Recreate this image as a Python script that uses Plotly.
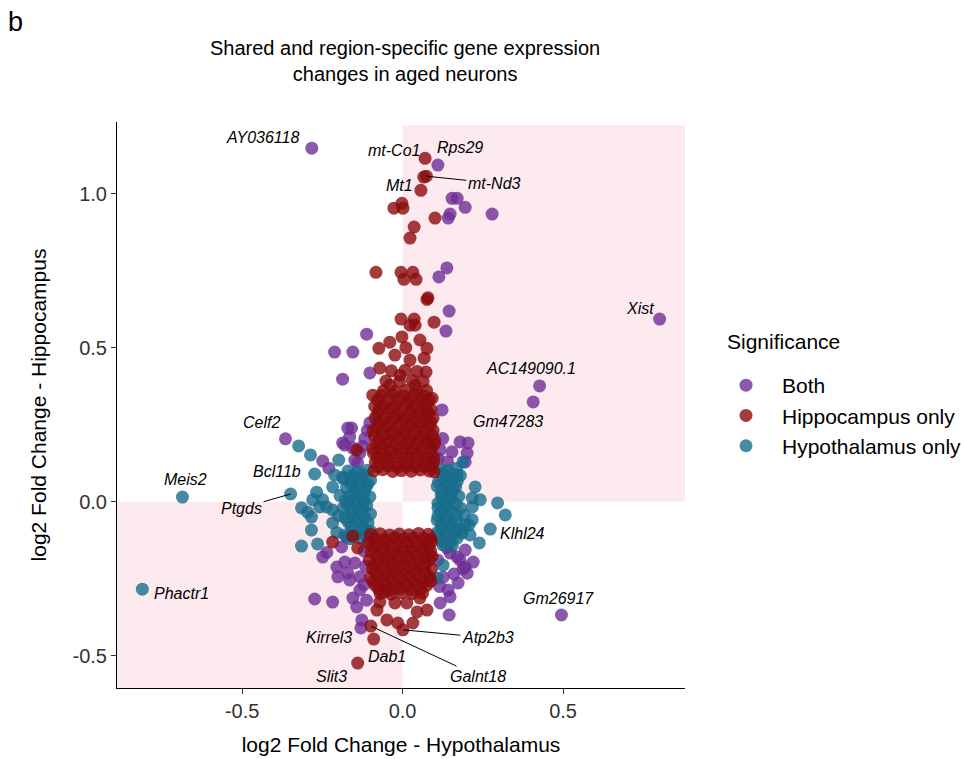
import plotly.graph_objects as go

# ---------------------------------------------------------------------------
# log2 fold changes (x: hypothalamus, y: hippocampus) per significance group
# ---------------------------------------------------------------------------

# genes significant in both regions
both_x = [0.154, 0.170, 0.195, 0.148, 0.142, 0.279,
          0.138, 0.113, 0.145, 0.135,
          -0.112, -0.212, -0.155, -0.187, -0.102, 0.123,
          -0.249, -0.230, -0.165, -0.171, -0.180, -0.159, -0.187, -0.149, -0.133,
          -0.102, -0.155, -0.140, -0.118, -0.125, -0.110,
          0.179, 0.204, 0.201, 0.154, 0.117, 0.195, 0.125, 0.110, 0.140,
          -0.249, -0.236, -0.205, -0.171, -0.202, -0.149, -0.133, -0.190, -0.174,
          -0.180, -0.165, -0.133, -0.155, -0.218, -0.274, -0.143, -0.130, -0.120,
          -0.115, -0.121, -0.112,
          0.148, 0.179, 0.195, 0.220, 0.138, 0.170, 0.188, 0.126, 0.173, 0.201,
          0.142, 0.148, 0.117, 0.145, 0.195, 0.110, 0.115, 0.160]
both_y = [0.985, 0.985, 0.956, 0.934, 0.921, 0.934,
          0.759, 0.730, 0.619, 0.554,
          0.544, 0.486, 0.486, 0.398, 0.418, 0.298,
          0.132, 0.109, 0.210, 0.239, 0.184, 0.239, 0.191, 0.135, 0.158,
          0.256, 0.174, 0.126, 0.205, 0.180, 0.232,
          0.194, 0.191, 0.158, 0.162, 0.168, 0.129, 0.205, 0.140, 0.130,
          -0.180, -0.165, -0.212, -0.231, -0.244, -0.199, -0.244, -0.147, -0.115,
          -0.196, -0.254, -0.287, -0.313, -0.326, -0.316, -0.342, -0.410, -0.160,
          -0.210, -0.270, -0.320,
          -0.167, -0.189, -0.212, -0.196, -0.150, -0.180, -0.218, -0.245, -0.264, -0.232,
          -0.287, -0.309, -0.329, -0.368, -0.157, -0.190, -0.275, -0.235]

# genes significant in the hippocampus only
hippo_x = [0.057, -0.027, -0.002, 0.001, 0.101, 0.036, 0.023,
           -0.083, -0.005, 0.004, 0.032, 0.042, 0.076, 0.079,
           -0.005, 0.036, 0.023, 0.039, 0.098,
           -0.002, -0.074, -0.040, 0.054, 0.076, 0.067, -0.071, 0.073, -0.093,
           -0.087, 0.092, 0.076, -0.024, 0.023, -0.008, 0.039, -0.040, 0.010,
           -0.218, -0.155, -0.140, -0.143,
           # upper block
           -0.090, -0.062, -0.031, -0.004, 0.027, 0.055, 0.083, 0.098,
           -0.085, -0.050, -0.018, 0.012, 0.043, 0.071, 0.096,
           -0.091, -0.066, -0.035, -0.002, 0.030, 0.061, 0.088,
           -0.083, -0.052, -0.020, 0.014, 0.046, 0.078, 0.099,
           -0.088, -0.060, -0.029, 0.004, 0.036, 0.065, 0.092,
           -0.080, -0.047, -0.013, 0.021, 0.052, 0.084,
           -0.086, -0.057, -0.024, 0.009, 0.040, 0.072, 0.095,
           -0.072, -0.038, -0.006, 0.028, 0.060, 0.088,
           -0.078, -0.046, -0.012, 0.020, 0.055, 0.083,
           -0.060, -0.025, 0.010, 0.044, 0.075,
           -0.052, -0.010, 0.030, 0.064,
           -0.035, 0.008, 0.045,
           -0.076, -0.046, -0.017, 0.012, 0.041, 0.069, 0.092,
           -0.078, -0.048, -0.018, 0.014, 0.045, 0.075, 0.098,
           -0.093, -0.068, -0.036, -0.004, 0.030, 0.062, 0.090,
           -0.074, -0.044, -0.012, 0.020, 0.050, 0.079, 0.100,
           -0.092, -0.064, -0.030, 0.004, 0.037, 0.068, 0.095,
           -0.072, -0.040, -0.006, 0.028, 0.058, 0.088,
           -0.078, -0.044, -0.012, 0.024, 0.056, 0.082,
           -0.058, -0.022, 0.012, 0.044, 0.074,
           -0.066, -0.030, 0.004, 0.036, 0.066,
           # lower block
           -0.100, -0.070, -0.040, -0.010, 0.020, 0.050, 0.080,
           -0.107, -0.078, -0.049, -0.016, 0.014, 0.044, 0.073, 0.090,
           -0.098, -0.066, -0.033, -0.002, 0.030, 0.060, 0.088,
           -0.104, -0.075, -0.044, -0.012, 0.020, 0.051, 0.082,
           -0.094, -0.062, -0.028, 0.005, 0.036, 0.067, 0.090,
           -0.100, -0.071, -0.040, -0.008, 0.024, 0.056, 0.085,
           -0.085, -0.052, -0.020, 0.013, 0.045, 0.075,
           -0.070, -0.036, -0.004, 0.030, 0.062,
           -0.086, -0.055, -0.025, 0.005, 0.035, 0.065, 0.088,
           -0.092, -0.062, -0.032, 0.000, 0.030, 0.060, 0.082,
           -0.082, -0.050, -0.018, 0.014, 0.045, 0.074, 0.092,
           -0.088, -0.058, -0.026, 0.006, 0.038, 0.070,
           -0.084, -0.054, -0.024, 0.008, 0.040, 0.072,
           -0.092, -0.060, -0.030, 0.002, 0.034, 0.066, 0.088,
           -0.074, -0.040, -0.008, 0.026, 0.056,
           -0.080, -0.049, -0.015, 0.032, 0.045, 0.076, -0.071, -0.024, 0.013,
           0.054, -0.055]
hippo_y = [1.011, 0.953, 0.969, 0.953, 0.921, 0.892, 0.856,
           0.745, 0.745, 0.722, 0.745, 0.722, 0.657, 0.662,
           0.593, 0.593, 0.573, 0.573, 0.583,
           0.535, 0.498, 0.518, 0.525, 0.498, 0.466, 0.434, 0.421, 0.346,
           0.310, 0.336, 0.291, 0.476, 0.460, 0.411, 0.378, 0.378, 0.500,
           -0.131, -0.112, -0.150, 0.168,
           0.100, 0.104, 0.098, 0.101, 0.099, 0.103, 0.100, 0.097,
           0.128, 0.131, 0.126, 0.129, 0.127, 0.130, 0.128,
           0.158, 0.156, 0.160, 0.157, 0.159, 0.155, 0.158,
           0.187, 0.189, 0.185, 0.188, 0.186, 0.190, 0.187,
           0.215, 0.213, 0.217, 0.214, 0.216, 0.212, 0.215,
           0.244, 0.246, 0.242, 0.245, 0.243, 0.244,
           0.272, 0.270, 0.274, 0.271, 0.273, 0.269, 0.272,
           0.300, 0.302, 0.298, 0.301, 0.299, 0.300,
           0.330, 0.328, 0.332, 0.329, 0.331, 0.330,
           0.360, 0.358, 0.362, 0.359, 0.361,
           0.392, 0.390, 0.394, 0.391,
           0.425, 0.427, 0.423,
           0.114, 0.116, 0.112, 0.115, 0.113, 0.114, 0.116,
           0.143, 0.141, 0.145, 0.142, 0.144, 0.143, 0.141,
           0.172, 0.174, 0.170, 0.173, 0.171, 0.172, 0.174,
           0.201, 0.199, 0.203, 0.200, 0.202, 0.201, 0.199,
           0.230, 0.232, 0.228, 0.231, 0.229, 0.230, 0.232,
           0.258, 0.256, 0.260, 0.257, 0.259, 0.258,
           0.286, 0.288, 0.284, 0.287, 0.285, 0.286,
           0.315, 0.313, 0.317, 0.314, 0.316,
           0.345, 0.347, 0.343, 0.346, 0.344,
           -0.106, -0.104, -0.108, -0.105, -0.107, -0.103, -0.106,
           -0.133, -0.135, -0.131, -0.134, -0.132, -0.136, -0.133, -0.130,
           -0.162, -0.160, -0.164, -0.161, -0.163, -0.159, -0.162,
           -0.190, -0.192, -0.188, -0.191, -0.189, -0.193, -0.190,
           -0.218, -0.216, -0.220, -0.217, -0.219, -0.215, -0.218,
           -0.246, -0.248, -0.244, -0.247, -0.245, -0.249, -0.246,
           -0.272, -0.274, -0.270, -0.273, -0.271, -0.272,
           -0.298, -0.300, -0.296, -0.299, -0.297,
           -0.119, -0.121, -0.117, -0.120, -0.118, -0.119, -0.121,
           -0.148, -0.146, -0.150, -0.147, -0.149, -0.148, -0.146,
           -0.176, -0.178, -0.174, -0.177, -0.175, -0.176, -0.178,
           -0.204, -0.202, -0.206, -0.203, -0.205, -0.204,
           -0.232, -0.234, -0.230, -0.233, -0.231, -0.232,
           -0.260, -0.258, -0.262, -0.259, -0.261, -0.260, -0.258,
           -0.285, -0.287, -0.283, -0.286, -0.284,
           -0.352, -0.384, -0.394, -0.394, -0.358, -0.352, -0.326, -0.329, -0.329,
           -0.313, -0.293]

# genes significant in the hypothalamus only
hypo_x = [-0.324, -0.287, -0.212, -0.199, -0.315, -0.296, -0.268, -0.280, -0.258,
          -0.237, -0.284, -0.315, -0.265, -0.218, -0.218, -0.249, -0.187, -0.218,
          -0.284, -0.205, -0.195, -0.200,
          -0.170, -0.141, -0.110, -0.158, -0.128, -0.100, -0.175, -0.145, -0.115,
          -0.165, -0.132, -0.102, -0.172, -0.142, -0.112, -0.160, -0.128, -0.100,
          -0.170, -0.140, -0.108, -0.155, -0.125, -0.100, -0.165, -0.132, -0.105,
          -0.155, -0.125, -0.162, -0.132, -0.108, -0.150, -0.120, -0.178, -0.150,
          -0.120, -0.158, -0.125, -0.180, -0.150, -0.118, -0.160, -0.125, -0.180,
          -0.145, -0.115, -0.185, -0.185,
          0.296, 0.320, 0.239, 0.217, 0.192, 0.207, 0.185, 0.226, 0.217, 0.242,
          0.210, 0.170, 0.157, 0.188, 0.107, 0.126, 0.217, 0.195,
          0.112, 0.140, 0.168, 0.125, 0.155, 0.108, 0.136, 0.165, 0.120, 0.150,
          0.175, 0.110, 0.138, 0.166, 0.122, 0.152, 0.108, 0.136, 0.168, 0.120,
          0.150, 0.110, 0.140, 0.170, 0.125, 0.155,
          0.126, 0.155, 0.180, 0.122, 0.150, 0.112, 0.142, 0.170, 0.124, 0.152,
          0.180, 0.110, 0.138, 0.168, 0.110, 0.136, 0.122, 0.152, 0.180, 0.108,
          0.136, 0.165, 0.122, 0.152]
hypo_y = [0.181, 0.152, 0.087, 0.135, -0.020, -0.034, 0.031, 0.006, -0.017,
          -0.017, -0.092, -0.144, -0.137, -0.069, 0.048, 0.006, 0.080, -0.027,
          -0.050, -0.100, 0.020, -0.045,
          0.100, 0.097, 0.102, 0.072, 0.075, 0.070, 0.045, 0.043, 0.047,
          0.018, 0.021, 0.016, -0.010, -0.008, -0.012, -0.038, -0.035, -0.040,
          -0.066, -0.063, -0.068, -0.094, -0.091, -0.096, -0.120, -0.118, -0.122,
          0.086, 0.088, 0.058, 0.060, 0.058, 0.031, 0.030, 0.004, 0.004,
          0.002, -0.024, -0.022, -0.052, -0.052, -0.050, -0.080, -0.080, -0.108,
          -0.107, -0.105, 0.075, -0.020,
          -0.004, -0.043, -0.134, -0.017, -0.043, -0.076, -0.102, 0.048, 0.012, 0.006,
          -0.108, 0.087, 0.038, 0.129, -0.248, -0.206, -0.059, -0.076,
          0.105, 0.102, 0.108, 0.078, 0.075, 0.050, 0.052, 0.047, 0.022, 0.025,
          0.018, -0.005, -0.003, -0.008, -0.033, -0.030, -0.060, -0.058, -0.062, -0.088,
          -0.085, -0.115, -0.112, -0.118, -0.140, -0.143,
          0.092, 0.090, 0.085, 0.036, 0.038, 0.064, 0.064, 0.066, 0.008, 0.010,
          -0.020, -0.020, -0.018, -0.045, -0.046, -0.045, -0.074, -0.072, -0.090, -0.100,
          -0.100, -0.100, -0.128, -0.128]

# labelled genes
lab_gene = ["AY036118", "mt-Co1", "Rps29", "Mt1", "mt-Nd3", "Xist", "AC149090.1",
            "Gm47283", "Celf2", "Bcl11b", "Meis2", "Ptgds", "Klhl24", "Gm26917",
            "Phactr1", "Kirrel3", "Galnt18", "Dab1", "Slit3", "Atp2b3"]
lab_group = ["Both", "Hippocampus only", "Both", "Hippocampus only", "Hippocampus only",
             "Both", "Both", "Both", "Both", "Hypothalamus only", "Hypothalamus only",
             "Hypothalamus only", "Hypothalamus only", "Both", "Hypothalamus only",
             "Both", "Hippocampus only", "Hippocampus only", "Hippocampus only",
             "Hippocampus only"]
lab_x = [-0.283, 0.070, 0.110, 0.066, 0.074, 0.801, 0.427, 0.407, -0.365, -0.274,
         -0.686, -0.349, 0.273, 0.495, -0.811, -0.127, -0.099, -0.090, -0.140, 0.001]
lab_y = [1.148, 1.115, 1.093, 1.054, 1.057, 0.593, 0.376, 0.324, 0.204, 0.090,
         0.015, 0.025, -0.089, -0.368, -0.284, -0.384, -0.404, -0.446, -0.524, -0.416]

# label placement: text-centre offset in px (right, down) and leader line flag
label_offset = {
    "AY036118": (-49, -11, False), "mt-Co1": (-31, -8, False), "Rps29": (22, -18, False),
    "Mt1": (-24, 8, False), "mt-Nd3": (68, 7, True), "Xist": (-20, -11, False),
    "AC149090.1": (-9, -17, False), "Gm47283": (-25, 20, False), "Celf2": (-24, -16, False),
    "Bcl11b": (-38, -2, False), "Meis2": (3, -18, False), "Ptgds": (-49, 14, True),
    "Klhl24": (32, 4, False), "Gm26917": (-3, -17, False), "Phactr1": (39, 4, False),
    "Kirrel3": (-33, 18, False), "Galnt18": (107, 50, True), "Dab1": (13, 17, False),
    "Slit3": (-26, 13, False), "Atp2b3": (85, 8, True),
}

colors = {"Both": "#6E2E96", "Hippocampus only": "#8B0B0E", "Hypothalamus only": "#186D8C"}
series = {"Both": (both_x, both_y),
          "Hippocampus only": (hippo_x, hippo_y),
          "Hypothalamus only": (hypo_x, hypo_y)}
legend_rank = {"Both": 1, "Hippocampus only": 2, "Hypothalamus only": 3}

X_RANGE = [-0.89, 0.88]
Y_RANGE = [-0.605, 1.233]

# plot area in px
W, H = 964, 759
ML, MR, MT, MB = 117, 279, 122, 71


def paper_x(px):
    return (px - ML) / (W - ML - MR)


def paper_y(py):
    return (H - MB - py) / (H - MT - MB)


fig = go.Figure()

# draw order: both, hypothalamus, hippocampus on top
for name in ["Both", "Hypothalamus only", "Hippocampus only"]:
    xs, ys = series[name]
    xs = list(xs) + [x for x, g in zip(lab_x, lab_group) if g == name]
    ys = list(ys) + [y for y, g in zip(lab_y, lab_group) if g == name]
    fig.add_trace(go.Scatter(
        x=xs, y=ys, mode="markers", name=name,
        legendrank=legend_rank[name], legendgroup=name,
        marker=dict(size=13, color=colors[name], opacity=0.8, line=dict(width=0)),
        hoverinfo="skip",
    ))

# shaded concordant quadrants
fig.add_shape(type="rect", xref="x", yref="y", x0=0, x1=X_RANGE[1], y0=0, y1=Y_RANGE[1] - 0.01,
              fillcolor="#FCEAEF", line=dict(width=0), layer="below")
fig.add_shape(type="rect", xref="x", yref="y", x0=X_RANGE[0], x1=0, y0=Y_RANGE[0], y1=0,
              fillcolor="#FCEAEF", line=dict(width=0), layer="below")

# gene labels
label_font = dict(size=16, color="black", family="Liberation Sans", style="italic")
for g, x, y in zip(lab_gene, lab_x, lab_y):
    dx, dy, line = label_offset[g]
    if line:
        fig.add_annotation(x=x, y=y, text=g, showarrow=True, ax=dx, ay=dy,
                           arrowhead=0, arrowwidth=1, arrowcolor="black", standoff=0,
                           font=label_font)
    else:
        fig.add_annotation(x=x, y=y, text=g, showarrow=False, xshift=dx, yshift=-dy,
                           font=label_font)

# title, panel letter, legend title
fig.add_annotation(xref="paper", yref="paper", x=paper_x(405), y=paper_y(61),
                   xanchor="center", yanchor="middle",
                   text="Shared and region-specific gene expression<br>changes in aged neurons",
                   showarrow=False, font=dict(size=20, color="black"))
fig.add_annotation(xref="paper", yref="paper", x=paper_x(15), y=paper_y(22),
                   xanchor="center", yanchor="middle",
                   text="b", showarrow=False, font=dict(size=27, color="black"))
fig.add_annotation(xref="paper", yref="paper", x=paper_x(725), y=paper_y(341),
                   xanchor="left", yanchor="middle", text="Significance", showarrow=False,
                   font=dict(size=21, color="black"))

axis_common = dict(showline=True, linecolor="black", linewidth=1, ticks="outside",
                   ticklen=5, tickcolor="#333333", showgrid=False, zeroline=False,
                   tickfont=dict(size=20, color="#333333"))

fig.update_layout(
    width=W, height=H,
    margin=dict(l=ML, r=MR, t=MT, b=MB, autoexpand=False),
    paper_bgcolor="white", plot_bgcolor="white",
    font=dict(family="Liberation Sans", color="black"),
    xaxis=dict(range=X_RANGE, tickvals=[-0.5, 0.0, 0.5], ticktext=["-0.5", "0.0", "0.5"],
               title=dict(text="log2 Fold Change - Hypothalamus", font=dict(size=21), standoff=16),
               **axis_common),
    yaxis=dict(range=Y_RANGE, tickvals=[-0.5, 0.0, 0.5, 1.0],
               ticktext=["-0.5", "0.0", "0.5", "1.0"],
               title=dict(text="log2 Fold Change - Hippocampus", font=dict(size=21), standoff=20),
               **axis_common),
    legend=dict(x=paper_x(710), y=paper_y(365), xanchor="left", yanchor="top",
                font=dict(size=21, color="black"), tracegroupgap=0,
                itemwidth=62, bgcolor="rgba(0,0,0,0)"),
    showlegend=True,
)

fig.write_html("out.html")
